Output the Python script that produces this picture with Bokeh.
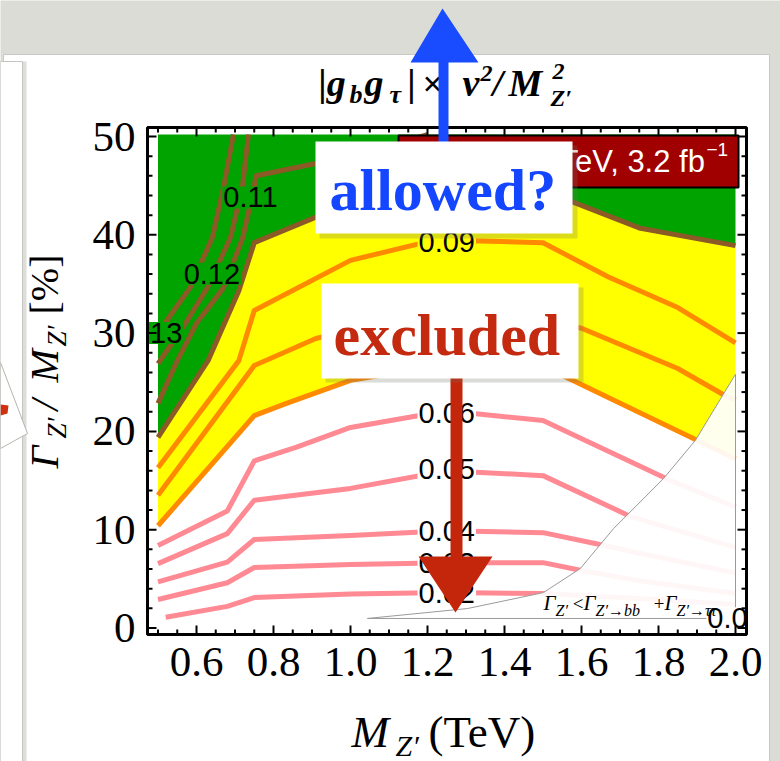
import math
from bokeh.plotting import figure
from bokeh.models import Range1d, BoxAnnotation, PolyAnnotation, Label, ColumnDataSource
from bokeh.core.properties import value
from bokeh.embed import file_html
from bokeh.resources import INLINE

# ------------------------------------------------------------------ data
# contour lines of |g_b g_tau| x v^2 / M_Z'^2 : vertices (M_Z' [TeV], Gamma/M [%])
M_002 = [0.52, 0.68, 0.75, 1.00, 1.25, 1.50, 1.75, 2.00]
W_002 = [1.1, 2.2, 3.1, 3.45, 3.6, 3.5, 3.0, 2.4]
M_003 = [0.50, 0.68, 0.75, 1.00, 1.25, 1.50, 1.60, 1.75, 2.00]
W_003 = [2.9, 4.6, 6.15, 6.45, 6.65, 6.65, 5.85, 4.8, 3.5]
M_004 = [0.50, 0.68, 0.75, 1.00, 1.25, 1.50, 1.66, 1.75, 2.00]
W_004 = [4.7, 6.7, 9.0, 9.4, 9.9, 9.7, 8.4, 7.6, 5.6]
M_005 = [0.50, 0.68, 0.75, 1.00, 1.25, 1.50, 1.73, 2.00]
W_005 = [6.55, 9.6, 13.0, 14.2, 16.0, 15.5, 11.3, 8.2]
M_006 = [0.50, 0.68, 0.75, 0.86, 1.00, 1.25, 1.50, 1.82, 2.00]
W_006 = [8.4, 11.9, 17.0, 18.4, 20.4, 22.1, 21.1, 15.2, 12.3]
M_007 = [0.50, 0.75, 0.83, 1.00, 1.25, 1.50, 1.54, 1.90, 2.00]
W_007 = [10.4, 21.6, 22.8, 25.2, 26.8, 26.4, 25.9, 19.1, 17.2]
M_008 = [0.50, 0.75, 0.91, 1.00, 1.25, 1.50, 1.60, 1.85, 1.97, 2.00]
W_008 = [13.5, 26.7, 29.45, 30.3, 31.5, 31.2, 30.5, 26.4, 23.7, 23.2]
M_009 = [0.50, 0.71, 0.75, 1.00, 1.18, 1.31, 1.50, 1.67, 1.85, 2.00]
W_009 = [16.3, 27.2, 32.3, 37.4, 39.1, 39.4, 39.2, 35.7, 32.6, 29.0]
M_010 = [0.50, 0.63, 0.71, 0.75, 0.91, 1.00, 1.25, 1.50, 1.58, 1.75, 2.00]
W_010 = [19.4, 27.2, 34.3, 39.2, 41.8, 42.6, 43.6, 43.5, 43.3, 40.7, 38.9]
M_011 = [0.50, 0.55, 0.60, 0.67, 0.72, 0.745, 0.755, 0.91, 1.05, 1.20]
W_011 = [22.85, 27.2, 31.0, 34.6, 39.7, 44.0, 46.0, 47.25, 48.5, 50.2]
M_012 = [0.50, 0.565, 0.628, 0.688, 0.719, 0.735]
W_012 = [26.9, 30.6, 34.6, 39.7, 44.8, 50.2]
M_013 = [0.50, 0.523, 0.583, 0.641, 0.67, 0.696]
W_013 = [29.5, 31.3, 34.6, 39.7, 44.8, 50.2]

# contour labels
LAB_TEXT = ["0.02", "0.03", "0.04", "0.05", "0.06", "0.07", "0.08", "0.09",
            "0.10", "0.11", "0.12", "0.13", "0.01"]
LAB_M = [1.25, 1.25, 1.25, 1.25, 1.25, 1.25, 1.25, 1.25, 1.25, 0.74, 0.64, 0.49, 2.0]
LAB_W = [3.6, 6.65, 9.9, 16.2, 21.9, 26.8, 31.5, 39.3, 43.6, 43.8, 36.05, 30.0, 1.0]

# region Gamma_Z' < Gamma(Z'->bb) + Gamma(Z'->tautau)
GAMMA_M = [1.044, 1.304, 1.501, 1.597, 1.683, 1.813, 1.896, 1.995, 2.0, 2.0]
GAMMA_W = [0.97, 1.98, 3.6, 6.05, 10.1, 15.2, 19.1, 25.5, 25.8, 0.97]

# scanned region
X_LO, X_HI, Y_TOP = 0.5, 2.0, 50.2

X_TICKS = [0.6, 0.8, 1.0, 1.2, 1.4, 1.6, 1.8, 2.0]
X_TICK_LABELS = ["0.6", "0.8", "1.0", "1.2", "1.4", "1.6", "1.8", "2.0"]
X_MINOR = [0.5, 0.55, 0.65, 0.7, 0.75, 0.85, 0.9, 0.95, 1.05, 1.1, 1.15, 1.25, 1.3, 1.35,
           1.45, 1.5, 1.55, 1.65, 1.7, 1.75, 1.85, 1.9, 1.95]
Y_TICKS = [0, 10, 20, 30, 40, 50]
Y_TICK_LABELS = ["0", "10", "20", "30", "40", "50"]
Y_MINOR = [2, 4, 6, 8, 12, 14, 16, 18, 22, 24, 26, 28, 32, 34, 36, 38, 42, 44, 46, 48]

# ------------------------------------------------------------------ page geometry
W_PX, H_PX = 780, 761
PX_X, PX_Y = 385.0, 9.83          # pixels per TeV / per percent
X0_PX, Y0_PX = 157.5, 627.5       # where (0.5 TeV, 0 %) sits on the page
BASE_SHIFT = 0.35                 # em shift of the rendered alphabetic baseline

def dx(px):
    return 0.5 + (px - X0_PX) / PX_X

def dy(py):
    return (Y0_PX - py) / PX_Y

FL, FR, FT, FB = dx(147), dx(746), dy(127), dy(634)   # plot frame

GREEN, YELLOW = "#00a300", "#ffff00"
BROWN, ORANGE, PINK = "#8b5a26", "#ff8a00", "#ff8a94"
SERIF, SANS = "Liberation Serif", "Liberation Sans"

p = figure(width=W_PX, height=H_PX, title=None, x_axis_type=None, y_axis_type=None,
           x_range=Range1d(dx(0), dx(W_PX)), y_range=Range1d(dy(H_PX), dy(0)),
           output_backend="svg", toolbar_location=None, min_border=0)
p.outline_line_color = None
p.background_fill_color = "#dcdcd6"
p.border_fill_color = "#dcdcd6"

# ---------------- slide background (cards)
def box(l, r, t, b, color, alpha=1.0, line=None, level="underlay", units="canvas", lw=1):
    p.add_layout(BoxAnnotation(left=l, right=r, top=t, bottom=b,
                               left_units=units, right_units=units, top_units=units,
                               bottom_units=units, fill_color=color, fill_alpha=alpha,
                               line_color=line, line_alpha=1.0, line_width=lw,
                               line_dash="solid", level=level))

def poly(xs, ys, color, alpha=1.0, line=None, level="annotation"):
    p.add_layout(PolyAnnotation(xs=xs, ys=ys, xs_units="canvas", ys_units="canvas",
                                fill_color=color, fill_alpha=alpha, line_color=line,
                                line_alpha=1.0, line_width=1, level=level))

box(3, 769, 54, 761, "white", line="#c8c8c4")
box(22, 26, 61, 761, "#d4d4d0", alpha=0.8)
box(0, 22, 61, 761, "white", line="#c4c4c0")
poly([0, 27, 0], [362, 433, 448], "white", line="#b4b4b0", level="underlay")
poly([0, 8, 7, 0], [404, 405, 413, 415], "#d03010", level="underlay")

# ---------------- filled regions + contours
p.patch(M_010 + [X_HI, X_LO], W_010 + [Y_TOP, Y_TOP], fill_color=GREEN, line_color=None)
p.patch(M_010 + M_007[::-1], W_010 + W_007[::-1], fill_color=YELLOW, line_color=None)

for xs, ys, col in [(M_002, W_002, PINK), (M_003, W_003, PINK), (M_004, W_004, PINK),
                    (M_005, W_005, PINK), (M_006, W_006, PINK),
                    (M_007, W_007, ORANGE), (M_008, W_008, ORANGE), (M_009, W_009, ORANGE),
                    (M_010, W_010, BROWN), (M_011, W_011, BROWN), (M_012, W_012, BROWN),
                    (M_013, W_013, BROWN)]:
    p.line(xs, ys, line_color=col, line_width=5, line_join="round")

p.patch(GAMMA_M, GAMMA_W, fill_color="white", fill_alpha=0.93,
        line_color="#9a9a9a", line_width=1)

bgs = ["white"] * 5 + [YELLOW] * 3 + [GREEN] * 4 + ["white"]
src = ColumnDataSource(dict(x=LAB_M, y=LAB_W, t=LAB_TEXT, bg=bgs))
p.text(x="x", y="y", text="t", source=src, text_font=value(SANS), text_font_size="29px",
       text_align="center", text_baseline="middle", text_color="black",
       background_fill_color="bg", padding=1)

# legend box inside the frame
p.quad(left=[dx(398)], right=[dx(738)], top=[dy(135)], bottom=[dy(187)],
       fill_color="#a00000", line_color="black", line_width=2)

# the frame clips the contour labels at its edges
p.quad(left=[dx(100), dx(747.5)], right=[dx(145.5), dx(768)],
       top=[dy(318), dy(600)], bottom=[dy(350), dy(634)],
       fill_color="white", line_color=None)

# ---------------- frame, ticks, tick labels
nx, nxm, ny, nym = len(X_TICKS), len(X_MINOR), len(Y_TICKS), len(Y_MINOR)
TMX, TmX = 9 / PX_X, 5 / PX_X
TMY, TmY = 9 / PX_Y, 5 / PX_Y
for base, sgn in [(FB, 1), (FT, -1)]:
    p.segment(x0=X_TICKS, y0=[base] * nx, x1=X_TICKS, y1=[base + sgn * TMY] * nx,
              line_color="black", line_width=2)
    p.segment(x0=X_MINOR, y0=[base] * nxm, x1=X_MINOR, y1=[base + sgn * TmY] * nxm,
              line_color="black", line_width=2)
for base, sgn in [(FL, 1), (FR, -1)]:
    p.segment(x0=[base] * ny, y0=Y_TICKS, x1=[base + sgn * TMX] * ny, y1=Y_TICKS,
              line_color="black", line_width=2)
    p.segment(x0=[base] * nym, y0=Y_MINOR, x1=[base + sgn * TmX] * nym, y1=Y_MINOR,
              line_color="black", line_width=2)
p.quad(left=[FL], right=[FR], top=[FT], bottom=[FB], fill_color=None,
       line_color="black", line_width=3)

p.text(x=X_TICKS, y=[dy(677 - BASE_SHIFT * 43)] * nx, text=X_TICK_LABELS,
       text_font=value(SERIF), text_font_size="43px", text_align="center",
       text_baseline="alphabetic", text_color="black")
p.text(x=[dx(135)] * ny, y=Y_TICKS, text=Y_TICK_LABELS, text_font=value(SERIF),
       text_font_size="43px", text_align="right", text_baseline="middle",
       text_color="black")

# ---------------- text helper (page pixels, (x, y) = desired baseline start)
def put(txt, x, y, size, color="black", style="normal", font=SERIF, rotated=False,
        align="left"):
    off = BASE_SHIFT * size
    if rotated:
        x, ang = x - off, math.pi / 2
    else:
        y, ang = y - off, 0.0
    p.add_layout(Label(x=x, y=y, x_units="canvas", y_units="canvas", text=txt,
                       text_font=font, text_font_size=f"{size}px", text_font_style=style,
                       text_color=color, text_align=align, text_baseline="alphabetic",
                       angle=ang))

put("ATLAS 13 TeV, 3.2 fb", 705, 172, 31, color="white", font=SANS, align="right")
put("\u22121", 706, 156, 19, color="white", font=SANS)

# condition label in the white region
for t, x, y, s in [("\u0393", 543, 610, 21), ("Z\u2032", 555, 616, 16), ("<", 571, 610, 19),
                   ("\u0393", 583, 610, 21), ("Z\u2032\u2192bb", 595, 616, 16),
                   ("+", 652, 610, 19), ("\u0393", 664, 610, 21),
                   ("Z\u2032\u2192\u03c4\u03c4", 676, 616, 16)]:
    put(t, x, y, s, style="italic")

# title
for t, x, y, s, st in [("|g", 318, 96, 38, "bold italic"), ("b", 349, 103, 26, "bold italic"),
                       ("g", 364, 96, 38, "bold italic"), ("\u03c4", 389, 103, 26, "bold italic"),
                       ("|", 407, 96, 38, "bold italic"), ("\u00d7", 422, 96, 36, "bold"),
                       ("v", 462, 96, 38, "bold italic"), ("2", 480, 81, 24, "bold italic"),
                       ("/", 492, 96, 38, "bold italic"), ("M", 508, 96, 38, "bold italic"),
                       ("2", 552, 79, 24, "bold italic"), ("Z\u2032", 550, 106, 24, "bold italic")]:
    put(t, x, y, s, style=st)

# x-axis label
put("M", 351, 747, 45, style="italic")
put("Z\u2032", 395, 755, 30, style="italic")
put("(TeV)", 428, 747, 45)

# y-axis label (rotated, reading upwards)
put("\u0393", 58, 468, 40, style="italic", rotated=True)
put("Z\u2032", 66, 438, 27, style="italic", rotated=True)
put("/", 58, 410, 40, style="italic", rotated=True)
put("M", 58, 382, 40, style="italic", rotated=True)
put("Z\u2032", 66, 346, 27, style="italic", rotated=True)
put("[%]", 58, 314, 40, rotated=True)

# ---------------- slide annotations: arrows and boxes
poly([438, 438, 410, 442, 478, 448, 448], [150, 62, 62, 8, 62, 62, 150], "#1a4cff")
box(319, 577, 145, 238, "#6f6f60", alpha=0.25, level="annotation")
box(315, 572, 141, 233, "white", level="annotation")
put("allowed?", 329, 210, 60, color="#1446ff", style="bold")

poly([450, 450, 418, 455, 492, 462, 462], [370, 556, 556, 612, 556, 556, 370], "#c4260c")
box(325, 583, 287, 382, "#6f6f60", alpha=0.25, level="annotation")
box(321, 578, 283, 378, "white", level="annotation")
put("excluded", 333, 355, 60, color="#c42a10", style="bold")

open("out.html", "w").write(file_html(p, INLINE))
